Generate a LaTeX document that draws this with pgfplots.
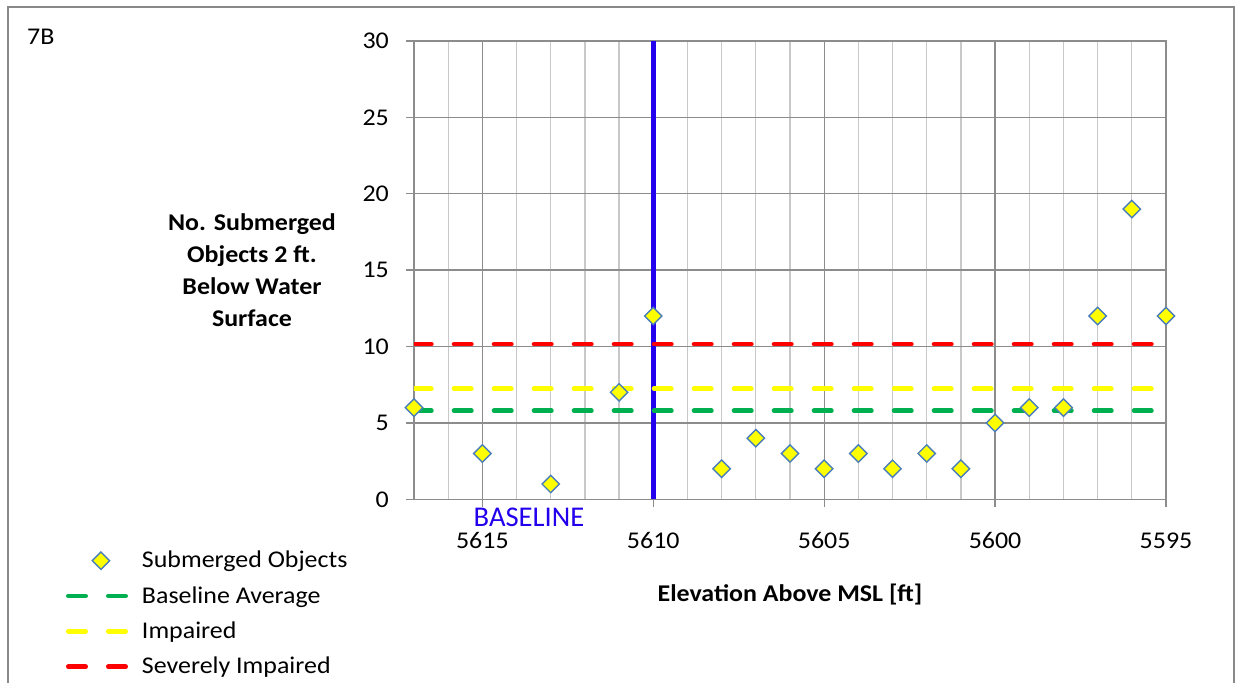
\documentclass[border=0pt]{standalone}
\usepackage{fontspec}
\setmainfont{Carlito}[FakeStretch=1.08]
\newfontfamily\plainfont{Carlito}
\usepackage{pgfplots}
\pgfplotsset{compat=1.18}
\definecolor{gridmajor}{RGB}{140,140,140}
\definecolor{gridminor}{RGB}{200,200,200}
\definecolor{framegray}{RGB}{137,137,137}
\definecolor{blueline}{RGB}{34,0,238}
\definecolor{xgreen}{RGB}{0,176,80}
\definecolor{xyellow}{RGB}{255,255,0}
\definecolor{xred}{RGB}{255,0,0}
\definecolor{markedge}{RGB}{74,126,187}
\pgfplotsset{
  dashleg/.style={legend image code/.code={\path[draw=none,fill=none] (0bp,-10bp) rectangle (62bp,10bp); \draw[##1] (2.25bp,0bp) -- (59.75bp,0bp);}},
  markleg/.style={legend image code/.code={\path[draw=none,fill=none] (0bp,-10bp) rectangle (62bp,10bp); \draw[##1] plot coordinates {(35bp,0bp)};}},
}
\begin{document}
\fontsize{24bp}{29bp}\selectfont
\begin{tikzpicture}
\useasboundingbox (0bp,0bp) rectangle (1249bp,683bp);
\draw[framegray, line width=1.5bp] (8bp,-20bp) -- (8bp,676bp) -- (1234bp,676bp) -- (1234bp,-20bp);
\node[anchor=base west, inner sep=0pt] at (27bp,638bp) {7B};
\begin{axis}[
  at={(414bp,183.7bp)}, anchor=south west,
  width=752bp, height=458.3bp, scale only axis,
  x dir=reverse,
  xmin=5595, xmax=5617, ymin=0, ymax=30,
  xtick={5595,5600,5605,5610,5615},
  minor xtick={5596,5597,5598,5599,5601,5602,5603,5604,5606,5607,5608,5609,5611,5612,5613,5614,5616,5617},
  ytick={0,5,10,15,20,25,30},
  xmajorgrids, xminorgrids, ymajorgrids,
  major grid style={gridmajor, line width=1.3bp},
  minor grid style={gridminor, line width=1.3bp},
  axis line style={gridmajor, line width=1.5bp},
  tick align=outside, tick pos=left,
  major tick length=8bp, minor tick length=0bp,
  tick style={gridmajor, line width=1.3bp},
  /pgf/number format/assume math mode=true,
  /pgf/number format/1000 sep={},
  xticklabel style={anchor=base, inner sep=0pt, yshift=-41bp},
  yticklabel style={anchor=east, inner sep=0pt, xshift=-17bp},
  xlabel={Elevation Above MSL [ft]},
  xlabel style={at={(rel axis cs:0.5,0)}, anchor=base, yshift=-102.4bp, font=\bfseries},
  ylabel={No. Submerged\\Objects 2 ft.\\Below Water\\Surface},
  ylabel style={rotate=-90, at={(rel axis cs:0,0.5)}, anchor=center, xshift=-162bp, align=center, font=\bfseries\fontsize{24bp}{31.9bp}\selectfont},
  legend cell align=left,
  reverse legend,
  legend style={at={(rel axis cs:0,0)}, anchor=north west, xshift=-348bp, yshift=-51.4bp,
    draw=none, fill=none, inner sep=0pt, outer sep=0pt, row sep=15.3bp, column sep=14bp,
    nodes={inner sep=0pt, text height=14bp, text depth=0bp}},
]
\addplot[blueline, line width=5.3bp, forget plot] coordinates {(5610,0) (5610,30)};
\addplot[xred, line width=4.5bp, dash pattern=on 17.5bp off 22.5bp, line cap=round, dashleg]
  coordinates {(5617,10.15) (5595,10.15)};
\addlegendentry{Severely Impaired}
\addplot[xyellow, line width=4.5bp, dash pattern=on 17.5bp off 22.5bp, line cap=round, dashleg]
  coordinates {(5617,7.25) (5595,7.25)};
\addlegendentry{Impaired}
\addplot[xgreen, line width=4.5bp, dash pattern=on 17.5bp off 22.5bp, line cap=round, dashleg]
  coordinates {(5617,5.8) (5595,5.8)};
\addlegendentry{Baseline Average}
\addplot[only marks, mark=diamond*, mark size=8.7bp,
  mark options={xscale=1.3333, fill=xyellow, draw=markedge, line width=1.4bp}, markleg]
  coordinates {
  (5617,6) (5615,3) (5613,1) (5611,7) (5610,12) (5608,2) (5607,4) (5606,3)
  (5605,2) (5604,3) (5603,2) (5602,3) (5601,2) (5600,5) (5599,6) (5598,6)
  (5597,12) (5596,19) (5595,12)};
\addlegendentry{Submerged Objects}
\end{axis}
\node[anchor=base, inner sep=0pt, text=blueline, font=\plainfont\fontsize{28.6bp}{34bp}\selectfont] at (529bp,156.3bp) {BASELINE};
\end{tikzpicture}
\end{document}
